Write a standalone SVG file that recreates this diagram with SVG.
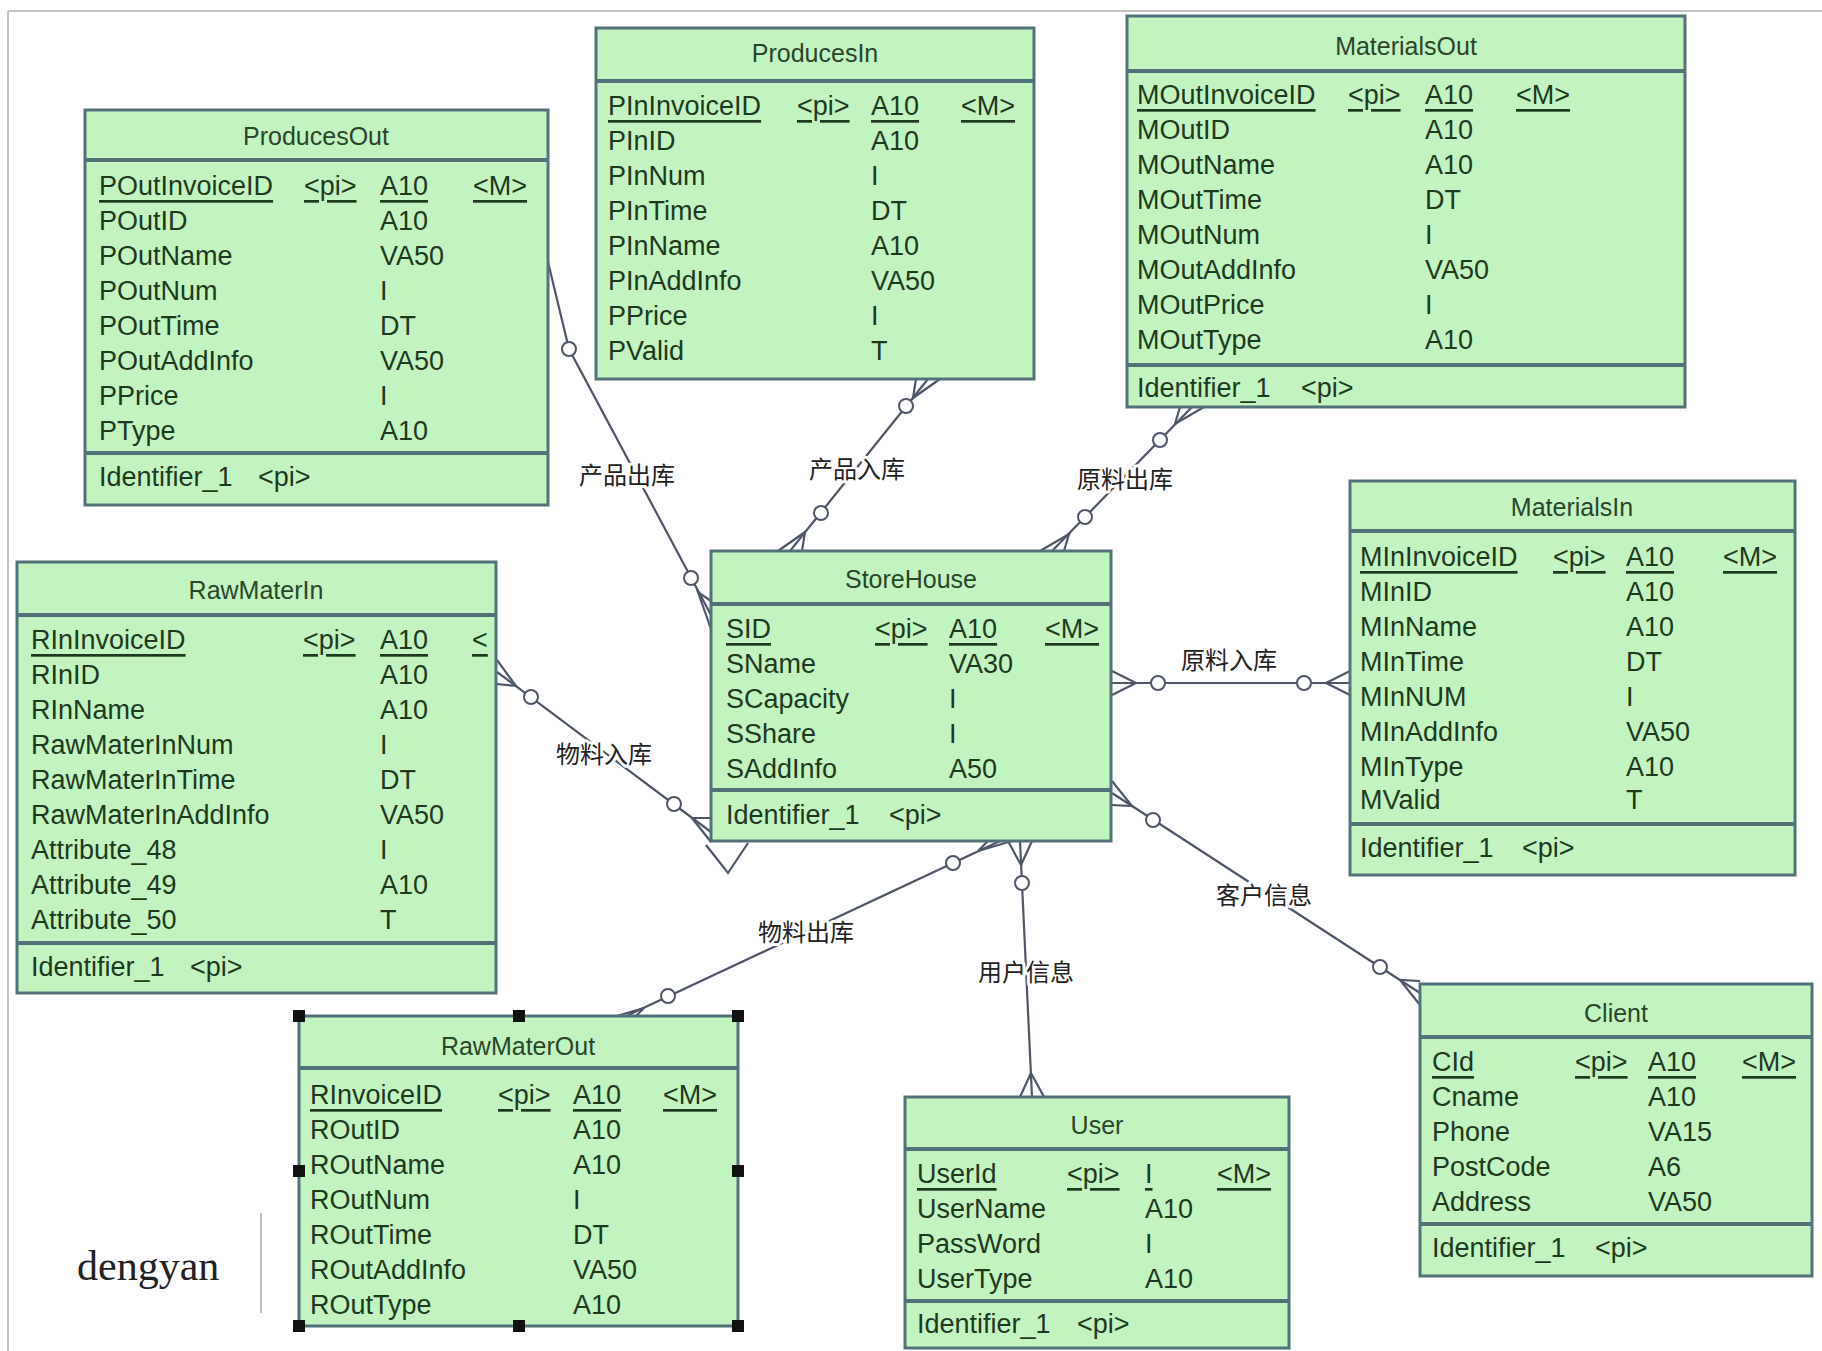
<svg xmlns="http://www.w3.org/2000/svg" width="1822" height="1351" viewBox="0 0 1822 1351">
<style>
.box{fill:#c2f4c0;stroke:#52727a;stroke-width:3}
.sep{stroke:#52727a;stroke-width:4}
.t{font-family:"Liberation Sans",Arial,sans-serif;font-size:27px;fill:#1e3a1e;dominant-baseline:central}
.ti{font-family:"Liberation Sans",Arial,sans-serif;font-size:25px;fill:#2a462a;text-anchor:middle;dominant-baseline:central}
.pk{text-decoration:underline}
.c{stroke:#4e5668;stroke-width:2.2;fill:none}
.o{fill:#ffffff;stroke:#4e5668;stroke-width:2}
.lb{font-family:"Noto Sans CJK SC","Noto Sans CJK JP",sans-serif;font-size:24px;fill:#222;text-anchor:middle;dominant-baseline:central;stroke:#fff;stroke-width:6;paint-order:stroke;stroke-linejoin:round}
.h{fill:#111}
</style>
<rect x="0" y="0" width="1822" height="1351" fill="#ffffff"/>
<line x1="8" y1="11" x2="1822" y2="11" stroke="#c4c4c4" stroke-width="2"/>
<line x1="8" y1="11" x2="8" y2="1351" stroke="#c4c4c4" stroke-width="2"/>

<g id="connectors">
  <!-- 产品出库 -->
  <polyline class="c" points="548,262 569,349 711,615"/>
  <polyline class="c" points="711,601 698,592 711,629"/>
  <circle class="o" cx="569" cy="349" r="7"/>
  <circle class="o" cx="691" cy="578" r="7"/>
  <!-- 产品入库 -->
  <line class="c" x1="928" y1="379" x2="790" y2="551"/>
  <polyline class="c" points="778,551 805,532 802,551"/>
  <polyline class="c" points="916,379 913,398 940,379"/>
  <circle class="o" cx="906" cy="406" r="7"/>
  <circle class="o" cx="821" cy="513" r="7"/>
  <!-- 原料出库 -->
  <line class="c" x1="1192" y1="407" x2="1052" y2="551"/>
  <polyline class="c" points="1040,551 1069,534 1064,551"/>
  <polyline class="c" points="1180,407 1175,424 1204,407"/>
  <circle class="o" cx="1160" cy="440" r="7"/>
  <circle class="o" cx="1085" cy="517" r="7"/>
  <!-- 原料入库 -->
  <line class="c" x1="1112" y1="683" x2="1350" y2="683"/>
  <polyline class="c" points="1112,671 1136,683 1112,695"/>
  <polyline class="c" points="1350,671 1326,683 1350,695"/>
  <circle class="o" cx="1158" cy="683" r="7"/>
  <circle class="o" cx="1304" cy="683" r="7"/>
  <!-- 物料入库 -->
  <line class="c" x1="497" y1="672" x2="711" y2="832"/>
  <polyline class="c" points="711,818 692,818 711,842"/>
  <polyline class="c" points="497,660 516,686 497,684"/>
  <polyline class="c" points="706,845 728,873 748,843"/>
  <circle class="o" cx="531" cy="697" r="7"/>
  <circle class="o" cx="674" cy="804" r="7"/>
  <!-- 物料出库 -->
  <line class="c" x1="622" y1="1018" x2="1000" y2="841"/>
  <polyline class="c" points="988,841 978,851 1012,841"/>
  <polyline class="c" points="610,1018 644,1008 634,1018"/>
  <circle class="o" cx="668" cy="996" r="7"/>
  <circle class="o" cx="953" cy="863" r="7"/>
  <!-- 用户信息 -->
  <line class="c" x1="1020" y1="841" x2="1032" y2="1097"/>
  <polyline class="c" points="1008,841 1021,865 1032,841"/>
  <polyline class="c" points="1020,1097 1031,1073 1044,1097"/>
  <circle class="o" cx="1022" cy="883" r="7"/>
  <!-- 客户信息 -->
  <line class="c" x1="1112" y1="793" x2="1420" y2="993"/>
  <polyline class="c" points="1112,781 1132,806 1112,805"/>
  <polyline class="c" points="1420,981 1400,980 1420,1005"/>
  <circle class="o" cx="1153" cy="820" r="7"/>
  <circle class="o" cx="1380" cy="967" r="7"/>
  <!-- labels -->
  <text class="lb" x="627" y="473">产品出库</text>
  <text class="lb" x="857" y="467">产品入库</text>
  <text class="lb" x="1125" y="477">原料出库</text>
  <text class="lb" x="1229" y="658">原料入库</text>
  <text class="lb" x="604" y="752">物料入库</text>
  <text class="lb" x="806" y="930">物料出库</text>
  <text class="lb" x="1026" y="970">用户信息</text>
  <text class="lb" x="1264" y="893">客户信息</text>
</g>

<g id="ProducesOut">
  <rect class="box" x="85" y="110" width="463" height="395"/>
  <text class="ti" x="316" y="136">ProducesOut</text>
  <line class="sep" x1="85" y1="160" x2="548" y2="160"/>
  <text class="t pk" x="99" y="186">POutInvoiceID</text><text class="t pk" x="304" y="186">&lt;pi&gt;</text><text class="t pk" x="380" y="186">A10</text><text class="t pk" x="473" y="186">&lt;M&gt;</text>
  <text class="t" x="99" y="221">POutID</text><text class="t" x="380" y="221">A10</text>
  <text class="t" x="99" y="256">POutName</text><text class="t" x="380" y="256">VA50</text>
  <text class="t" x="99" y="291">POutNum</text><text class="t" x="380" y="291">I</text>
  <text class="t" x="99" y="326">POutTime</text><text class="t" x="380" y="326">DT</text>
  <text class="t" x="99" y="361">POutAddInfo</text><text class="t" x="380" y="361">VA50</text>
  <text class="t" x="99" y="396">PPrice</text><text class="t" x="380" y="396">I</text>
  <text class="t" x="99" y="431">PType</text><text class="t" x="380" y="431">A10</text>
  <line class="sep" x1="85" y1="453" x2="548" y2="453"/>
  <text class="t" x="99" y="477">Identifier_1</text><text class="t" x="258" y="477">&lt;pi&gt;</text>
</g>

<g id="ProducesIn">
  <rect class="box" x="596" y="28" width="438" height="351"/>
  <text class="ti" x="815" y="53">ProducesIn</text>
  <line class="sep" x1="596" y1="81" x2="1034" y2="81"/>
  <text class="t pk" x="608" y="106">PInInvoiceID</text><text class="t pk" x="797" y="106">&lt;pi&gt;</text><text class="t pk" x="871" y="106">A10</text><text class="t pk" x="961" y="106">&lt;M&gt;</text>
  <text class="t" x="608" y="141">PInID</text><text class="t" x="871" y="141">A10</text>
  <text class="t" x="608" y="176">PInNum</text><text class="t" x="871" y="176">I</text>
  <text class="t" x="608" y="211">PInTime</text><text class="t" x="871" y="211">DT</text>
  <text class="t" x="608" y="246">PInName</text><text class="t" x="871" y="246">A10</text>
  <text class="t" x="608" y="281">PInAddInfo</text><text class="t" x="871" y="281">VA50</text>
  <text class="t" x="608" y="316">PPrice</text><text class="t" x="871" y="316">I</text>
  <text class="t" x="608" y="351">PValid</text><text class="t" x="871" y="351">T</text>
</g>

<g id="MaterialsOut">
  <rect class="box" x="1127" y="16" width="558" height="391"/>
  <text class="ti" x="1406" y="46">MaterialsOut</text>
  <line class="sep" x1="1127" y1="71" x2="1685" y2="71"/>
  <text class="t pk" x="1137" y="95">MOutInvoiceID</text><text class="t pk" x="1348" y="95">&lt;pi&gt;</text><text class="t pk" x="1425" y="95">A10</text><text class="t pk" x="1516" y="95">&lt;M&gt;</text>
  <text class="t" x="1137" y="130">MOutID</text><text class="t" x="1425" y="130">A10</text>
  <text class="t" x="1137" y="165">MOutName</text><text class="t" x="1425" y="165">A10</text>
  <text class="t" x="1137" y="200">MOutTime</text><text class="t" x="1425" y="200">DT</text>
  <text class="t" x="1137" y="235">MOutNum</text><text class="t" x="1425" y="235">I</text>
  <text class="t" x="1137" y="270">MOutAddInfo</text><text class="t" x="1425" y="270">VA50</text>
  <text class="t" x="1137" y="305">MOutPrice</text><text class="t" x="1425" y="305">I</text>
  <text class="t" x="1137" y="340">MOutType</text><text class="t" x="1425" y="340">A10</text>
  <line class="sep" x1="1127" y1="365" x2="1685" y2="365"/>
  <text class="t" x="1137" y="388">Identifier_1</text><text class="t" x="1301" y="388">&lt;pi&gt;</text>
</g>

<g id="MaterialsIn">
  <rect class="box" x="1350" y="481" width="445" height="394"/>
  <text class="ti" x="1572" y="507">MaterialsIn</text>
  <line class="sep" x1="1350" y1="531" x2="1795" y2="531"/>
  <text class="t pk" x="1360" y="557">MInInvoiceID</text><text class="t pk" x="1553" y="557">&lt;pi&gt;</text><text class="t pk" x="1626" y="557">A10</text><text class="t pk" x="1723" y="557">&lt;M&gt;</text>
  <text class="t" x="1360" y="592">MInID</text><text class="t" x="1626" y="592">A10</text>
  <text class="t" x="1360" y="627">MInName</text><text class="t" x="1626" y="627">A10</text>
  <text class="t" x="1360" y="662">MInTime</text><text class="t" x="1626" y="662">DT</text>
  <text class="t" x="1360" y="697">MInNUM</text><text class="t" x="1626" y="697">I</text>
  <text class="t" x="1360" y="732">MInAddInfo</text><text class="t" x="1626" y="732">VA50</text>
  <text class="t" x="1360" y="767">MInType</text><text class="t" x="1626" y="767">A10</text>
  <text class="t" x="1360" y="800">MValid</text><text class="t" x="1626" y="800">T</text>
  <line class="sep" x1="1350" y1="824" x2="1795" y2="824"/>
  <text class="t" x="1360" y="848">Identifier_1</text><text class="t" x="1522" y="848">&lt;pi&gt;</text>
</g>

<g id="RawMaterIn">
  <rect class="box" x="17" y="562" width="479" height="431"/>
  <text class="ti" x="256" y="590">RawMaterIn</text>
  <line class="sep" x1="17" y1="615" x2="496" y2="615"/>
  <text class="t pk" x="31" y="640">RInInvoiceID</text><text class="t pk" x="303" y="640">&lt;pi&gt;</text><text class="t pk" x="380" y="640">A10</text><text class="t pk" x="472" y="640">&lt;</text>
  <text class="t" x="31" y="675">RInID</text><text class="t" x="380" y="675">A10</text>
  <text class="t" x="31" y="710">RInName</text><text class="t" x="380" y="710">A10</text>
  <text class="t" x="31" y="745">RawMaterInNum</text><text class="t" x="380" y="745">I</text>
  <text class="t" x="31" y="780">RawMaterInTime</text><text class="t" x="380" y="780">DT</text>
  <text class="t" x="31" y="815">RawMaterInAddInfo</text><text class="t" x="380" y="815">VA50</text>
  <text class="t" x="31" y="850">Attribute_48</text><text class="t" x="380" y="850">I</text>
  <text class="t" x="31" y="885">Attribute_49</text><text class="t" x="380" y="885">A10</text>
  <text class="t" x="31" y="920">Attribute_50</text><text class="t" x="380" y="920">T</text>
  <line class="sep" x1="17" y1="943" x2="496" y2="943"/>
  <text class="t" x="31" y="967">Identifier_1</text><text class="t" x="190" y="967">&lt;pi&gt;</text>
</g>

<g id="StoreHouse">
  <rect class="box" x="711" y="551" width="400" height="290"/>
  <text class="ti" x="911" y="579">StoreHouse</text>
  <line class="sep" x1="711" y1="604" x2="1111" y2="604"/>
  <text class="t pk" x="726" y="629">SID</text><text class="t pk" x="875" y="629">&lt;pi&gt;</text><text class="t pk" x="949" y="629">A10</text><text class="t pk" x="1045" y="629">&lt;M&gt;</text>
  <text class="t" x="726" y="664">SName</text><text class="t" x="949" y="664">VA30</text>
  <text class="t" x="726" y="699">SCapacity</text><text class="t" x="949" y="699">I</text>
  <text class="t" x="726" y="734">SShare</text><text class="t" x="949" y="734">I</text>
  <text class="t" x="726" y="769">SAddInfo</text><text class="t" x="949" y="769">A50</text>
  <line class="sep" x1="711" y1="790" x2="1111" y2="790"/>
  <text class="t" x="726" y="815">Identifier_1</text><text class="t" x="889" y="815">&lt;pi&gt;</text>
</g>

<g id="RawMaterOut">
  <rect class="box" x="299" y="1016" width="439" height="310"/>
  <text class="ti" x="518" y="1046">RawMaterOut</text>
  <line class="sep" x1="299" y1="1068" x2="738" y2="1068"/>
  <text class="t pk" x="310" y="1095">RInvoiceID</text><text class="t pk" x="498" y="1095">&lt;pi&gt;</text><text class="t pk" x="573" y="1095">A10</text><text class="t pk" x="663" y="1095">&lt;M&gt;</text>
  <text class="t" x="310" y="1130">ROutID</text><text class="t" x="573" y="1130">A10</text>
  <text class="t" x="310" y="1165">ROutName</text><text class="t" x="573" y="1165">A10</text>
  <text class="t" x="310" y="1200">ROutNum</text><text class="t" x="573" y="1200">I</text>
  <text class="t" x="310" y="1235">ROutTime</text><text class="t" x="573" y="1235">DT</text>
  <text class="t" x="310" y="1270">ROutAddInfo</text><text class="t" x="573" y="1270">VA50</text>
  <text class="t" x="310" y="1305">ROutType</text><text class="t" x="573" y="1305">A10</text>
  <rect class="h" x="293" y="1010" width="12" height="12"/>
  <rect class="h" x="513" y="1010" width="12" height="12"/>
  <rect class="h" x="732" y="1010" width="12" height="12"/>
  <rect class="h" x="293" y="1165" width="12" height="12"/>
  <rect class="h" x="732" y="1165" width="12" height="12"/>
  <rect class="h" x="293" y="1320" width="12" height="12"/>
  <rect class="h" x="513" y="1320" width="12" height="12"/>
  <rect class="h" x="732" y="1320" width="12" height="12"/>
</g>

<g id="User">
  <rect class="box" x="905" y="1097" width="384" height="251"/>
  <text class="ti" x="1097" y="1125">User</text>
  <line class="sep" x1="905" y1="1149" x2="1289" y2="1149"/>
  <text class="t pk" x="917" y="1174">UserId</text><text class="t pk" x="1067" y="1174">&lt;pi&gt;</text><text class="t pk" x="1145" y="1174">I</text><text class="t pk" x="1217" y="1174">&lt;M&gt;</text>
  <text class="t" x="917" y="1209">UserName</text><text class="t" x="1145" y="1209">A10</text>
  <text class="t" x="917" y="1244">PassWord</text><text class="t" x="1145" y="1244">I</text>
  <text class="t" x="917" y="1279">UserType</text><text class="t" x="1145" y="1279">A10</text>
  <line class="sep" x1="905" y1="1301" x2="1289" y2="1301"/>
  <text class="t" x="917" y="1324">Identifier_1</text><text class="t" x="1077" y="1324">&lt;pi&gt;</text>
</g>

<g id="Client">
  <rect class="box" x="1420" y="984" width="392" height="292"/>
  <text class="ti" x="1616" y="1013">Client</text>
  <line class="sep" x1="1420" y1="1037" x2="1812" y2="1037"/>
  <text class="t pk" x="1432" y="1062">CId</text><text class="t pk" x="1575" y="1062">&lt;pi&gt;</text><text class="t pk" x="1648" y="1062">A10</text><text class="t pk" x="1742" y="1062">&lt;M&gt;</text>
  <text class="t" x="1432" y="1097">Cname</text><text class="t" x="1648" y="1097">A10</text>
  <text class="t" x="1432" y="1132">Phone</text><text class="t" x="1648" y="1132">VA15</text>
  <text class="t" x="1432" y="1167">PostCode</text><text class="t" x="1648" y="1167">A6</text>
  <text class="t" x="1432" y="1202">Address</text><text class="t" x="1648" y="1202">VA50</text>
  <line class="sep" x1="1420" y1="1224" x2="1812" y2="1224"/>
  <text class="t" x="1432" y="1248">Identifier_1</text><text class="t" x="1595" y="1248">&lt;pi&gt;</text>
</g>

<g id="caption">
  <text x="77" y="1280" font-family="'Liberation Serif','Times New Roman',serif" font-size="42" fill="#222">dengyan</text>
  <line x1="261" y1="1213" x2="261" y2="1313" stroke="#aaaaaa" stroke-width="1.5"/>
</g>
</svg>
